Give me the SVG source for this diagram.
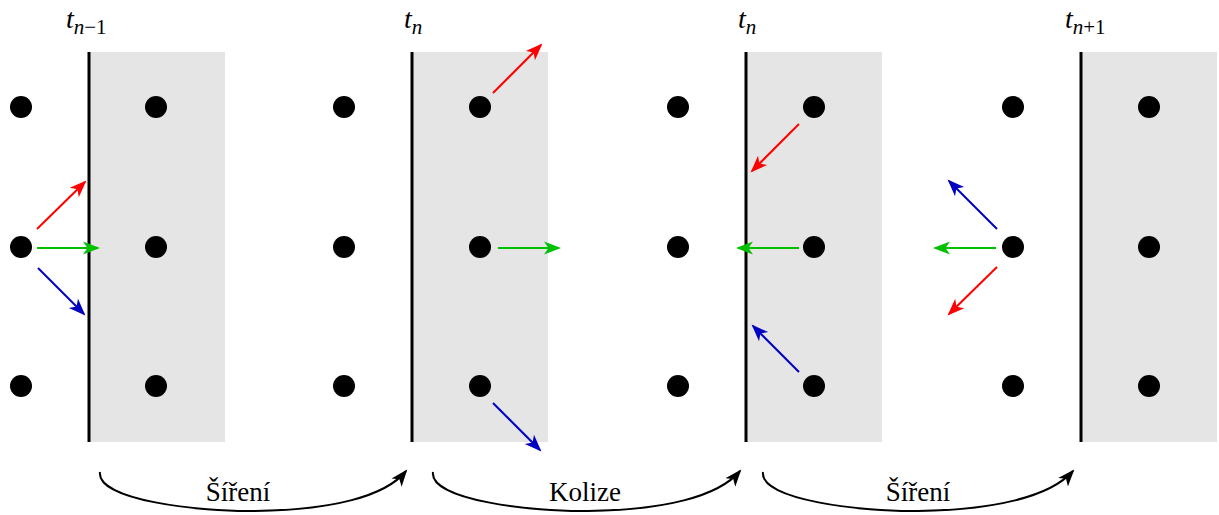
<svg xmlns="http://www.w3.org/2000/svg" width="1219" height="515" viewBox="0 0 1219 515">
<style>
.bg{fill:#e5e5e5}
.wall{stroke:#000;stroke-width:3}
.dot{fill:#000}
.r{stroke:#ff0000;stroke-width:2;fill:none}
.g{stroke:#00c000;stroke-width:2;fill:none}
.b{stroke:#0000c0;stroke-width:2;fill:none}
.k{stroke:#000;stroke-width:2;fill:none}
.lbl{font-family:"Liberation Serif",serif;font-size:27px;fill:#000}
.t{font-family:"Liberation Serif",serif;font-size:28px;font-style:italic;fill:#000}
.sub{font-size:21px}
.subn{font-style:normal}
</style>
<defs>
<marker id="ar" markerWidth="18" markerHeight="16" refX="15" refY="8" orient="auto" markerUnits="userSpaceOnUse"><path d="M0,1.5 L17,8 L0,14.5 L4.5,8 Z" fill="#ff0000"/></marker>
<marker id="ag" markerWidth="18" markerHeight="16" refX="15" refY="8" orient="auto" markerUnits="userSpaceOnUse"><path d="M0,1.5 L17,8 L0,14.5 L4.5,8 Z" fill="#00c000"/></marker>
<marker id="ab" markerWidth="18" markerHeight="16" refX="15" refY="8" orient="auto" markerUnits="userSpaceOnUse"><path d="M0,1.5 L17,8 L0,14.5 L4.5,8 Z" fill="#0000c0"/></marker>
<marker id="ak" markerWidth="18" markerHeight="16" refX="15" refY="8" orient="auto" markerUnits="userSpaceOnUse"><path d="M0,1.5 L17,8 L0,14.5 L4.5,8 Z" fill="#000"/></marker>
</defs>

<g id="panel1">
<rect class="bg" x="90" y="52" width="135" height="390"/>
<line class="wall" x1="89" y1="52" x2="89" y2="442"/>
<circle class="dot" cx="21" cy="107" r="11"/><circle class="dot" cx="156" cy="107" r="11"/>
<circle class="dot" cx="21" cy="247" r="11"/><circle class="dot" cx="156" cy="247" r="11"/>
<circle class="dot" cx="21" cy="386" r="11"/><circle class="dot" cx="156" cy="386" r="11"/>
<text class="t" x="66" y="28">t<tspan class="sub" dy="6">n</tspan><tspan class="sub subn">−1</tspan></text>
</g>
<g id="panel2">
<rect class="bg" x="413" y="52" width="135" height="390"/>
<line class="wall" x1="412" y1="52" x2="412" y2="442"/>
<circle class="dot" cx="344" cy="107" r="11"/><circle class="dot" cx="480" cy="107" r="11"/>
<circle class="dot" cx="344" cy="247" r="11"/><circle class="dot" cx="480" cy="247" r="11"/>
<circle class="dot" cx="344" cy="386" r="11"/><circle class="dot" cx="480" cy="386" r="11"/>
<text class="t" x="404" y="28">t<tspan class="sub" dy="6">n</tspan></text>
</g>
<g id="panel3">
<rect class="bg" x="747" y="52" width="135" height="390"/>
<line class="wall" x1="746" y1="52" x2="746" y2="442"/>
<circle class="dot" cx="678" cy="107" r="11"/><circle class="dot" cx="814" cy="107" r="11"/>
<circle class="dot" cx="678" cy="247" r="11"/><circle class="dot" cx="814" cy="247" r="11"/>
<circle class="dot" cx="678" cy="386" r="11"/><circle class="dot" cx="814" cy="386" r="11"/>
<text class="t" x="738" y="28">t<tspan class="sub" dy="6">n</tspan></text>
</g>
<g id="panel4">
<rect class="bg" x="1082" y="52" width="135" height="390"/>
<line class="wall" x1="1081" y1="52" x2="1081" y2="442"/>
<circle class="dot" cx="1013" cy="107" r="11"/><circle class="dot" cx="1149" cy="107" r="11"/>
<circle class="dot" cx="1013" cy="247" r="11"/><circle class="dot" cx="1149" cy="247" r="11"/>
<circle class="dot" cx="1013" cy="386" r="11"/><circle class="dot" cx="1149" cy="386" r="11"/>
<text class="t" x="1065" y="28">t<tspan class="sub" dy="6">n</tspan><tspan class="sub subn">+1</tspan></text>
</g>

<g id="connectors">
<line class="r" x1="37" y1="229" x2="85" y2="182" marker-end="url(#ar)"/>
<line class="g" x1="37" y1="248" x2="98" y2="248" marker-end="url(#ag)"/>
<line class="b" x1="38" y1="268" x2="84" y2="314" marker-end="url(#ab)"/>

<line class="r" x1="493" y1="93" x2="541" y2="45" marker-end="url(#ar)"/>
<line class="g" x1="498" y1="248" x2="559" y2="248" marker-end="url(#ag)"/>
<line class="b" x1="493" y1="403" x2="540" y2="450" marker-end="url(#ab)"/>

<line class="r" x1="799" y1="124" x2="752" y2="171" marker-end="url(#ar)"/>
<line class="g" x1="799" y1="248" x2="738" y2="248" marker-end="url(#ag)"/>
<line class="b" x1="799" y1="372" x2="753" y2="326" marker-end="url(#ab)"/>

<line class="b" x1="997" y1="229" x2="949" y2="181" marker-end="url(#ab)"/>
<line class="g" x1="996" y1="248" x2="935" y2="248" marker-end="url(#ag)"/>
<line class="r" x1="997" y1="267" x2="949" y2="314" marker-end="url(#ar)"/>

<path class="k" d="M100,472 C96,500 200,512 255,511 C330,510 385,497 406,471" marker-end="url(#ak)"/>
<path class="k" d="M433,472 C429,500 533,512 588,511 C663,510 718,497 740,471" marker-end="url(#ak)"/>
<path class="k" d="M763,472 C759,500 863,512 918,511 C993,510 1050,497 1073,471" marker-end="url(#ak)"/>
</g>
<text class="lbl" x="238" y="501" text-anchor="middle">Šíření</text>
<text class="lbl" x="585" y="501" text-anchor="middle">Kolize</text>
<text class="lbl" x="918" y="501" text-anchor="middle">Šíření</text>
</svg>
